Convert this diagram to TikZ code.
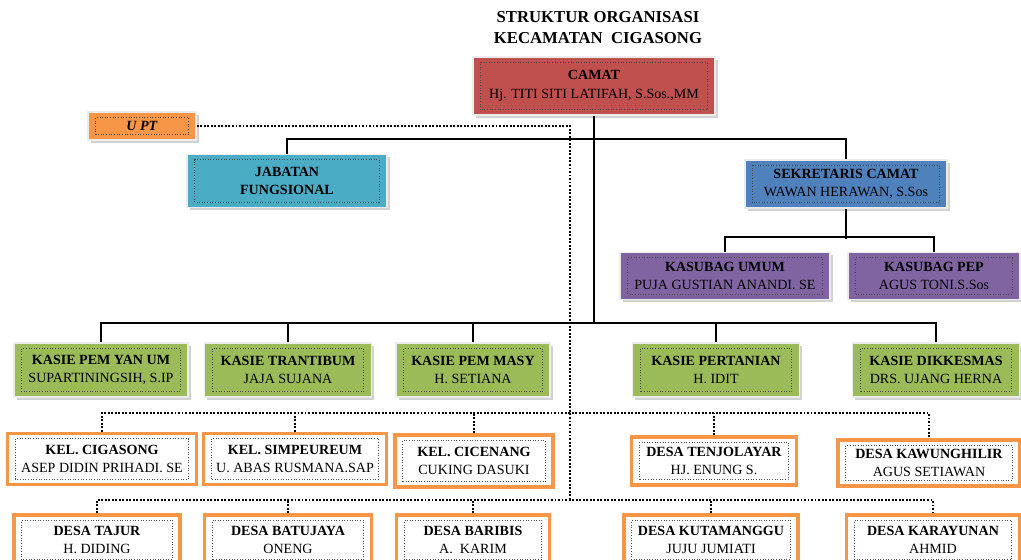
\documentclass[tikz,border=0pt]{standalone}
\usepackage{fontspec}
\setmainfont{Liberation Serif}
\usetikzlibrary{positioning}
\usetikzlibrary{shadows}
\definecolor{camatred}{HTML}{C0504D}
\definecolor{uptorange}{HTML}{F79646}
\definecolor{jabblue}{HTML}{4BACC6}
\definecolor{sekblue}{HTML}{4F81BD}
\definecolor{subpurple}{HTML}{8064A2}
\definecolor{kasiegreen}{HTML}{9BBB59}
\tikzset{
    every node/.append style={
        font=\fontsize{8}{10.5}\selectfont
    },
    inner frame/.style={
        path picture={
            \draw[densely dotted, gray!60!black, line width=0.5pt]
                ([shift={(4.5pt,3pt)}]path picture bounding box.south west) rectangle
                ([shift={(-4.5pt,-3pt)}]path picture bounding box.north east);
        }
    },
    unit/.style={
        draw=white!85!gray,
        line width=1pt,
        fill=#1,
        align=center,
        inner sep=0pt,
        inner frame,
        drop shadow={shadow xshift=1.5pt, shadow yshift=-1.5pt, fill=gray!70, opacity=0.5}
    },
    village/.style={
        draw=uptorange,
        line width=1.9pt,
        fill=white,
        align=center,
        inner sep=0pt,
        inner frame
    },
    orgline/.style={
        draw,
        line width=1.1pt
    },
    dotline/.style={
        draw,
        line width=1.4pt,
        dash pattern=on 1.1pt off 0.9pt
    }
}

\begin{document}
\begin{tikzpicture}[x=0.02cm, y=-0.02cm]
    \useasboundingbox (0,0) rectangle (1021,560);

    \node[align=center, font=\fontsize{9.5}{12}\selectfont\bfseries] (title) at (598,28)
        {STRUKTUR ORGANISASI\\KECAMATAN\ \ CIGASONG};

    \node[unit=camatred, minimum width=4.84cm, minimum height=1.16cm] (camat) at (594,86)
        {\textbf{CAMAT}\\Hj. TITI SITI LATIFAH, S.Sos.,MM};
    \node[unit=uptorange, minimum width=2.16cm, minimum height=0.56cm] (upt) at (142,126)
        {\textbf{\textit{U PT}}};
    \node[unit=jabblue, minimum width=4cm, minimum height=1.06cm] (jabatan) at (287,181)
        {\textbf{JABATAN}\\\textbf{FUNGSIONAL}};
    \node[unit=sekblue, minimum width=4.04cm, minimum height=0.96cm] (sekcam) at (846,184)
        {\textbf{SEKRETARIS CAMAT}\\WAWAN HERAWAN, S.Sos};
    \node[unit=subpurple, minimum width=4.2cm, minimum height=0.94cm] (kumum) at (725,276)
        {\textbf{KASUBAG UMUM}\\PUJA GUSTIAN ANANDI. SE};
    \node[unit=subpurple, minimum width=3.44cm, minimum height=0.94cm] (kpep) at (934,276)
        {\textbf{KASUBAG PEP}\\AGUS TONI.S.Sos};

    \node[unit=kasiegreen, minimum width=3.48cm, minimum height=1.08cm] (kyanum) at (101,370)
        {\textbf{KASIE PEM YAN UM}\\SUPARTININGSIH, S.IP};
    \node[unit=kasiegreen, minimum width=3.34cm, minimum height=1.08cm] (ktrantib) at (288,370)
        {\textbf{KASIE TRANTIBUM}\\JAJA SUJANA};
    \node[unit=kasiegreen, minimum width=3.08cm, minimum height=1.08cm] (kmasy) at (473,370)
        {\textbf{KASIE PEM MASY}\\H. SETIANA};
    \node[unit=kasiegreen, minimum width=3.34cm, minimum height=1.08cm] (ktani) at (716,370)
        {\textbf{KASIE PERTANIAN}\\H. IDIT};
    \node[unit=kasiegreen, minimum width=3.34cm, minimum height=1.08cm] (kdikkes) at (936,370)
        {\textbf{KASIE DIKKESMAS}\\DRS. UJANG HERNA};

    \node[village, minimum width=3.78cm, minimum height=1.02cm] (cigasong) at (102,459)
        {\textbf{KEL. CIGASONG}\\ASEP DIDIN PRIHADI. SE};
    \node[village, minimum width=3.66cm, minimum height=1.02cm] (simpeureum) at (295,459)
        {\textbf{KEL. SIMPEUREUM}\\U. ABAS RUSMANA.SAP};
    \node[village, minimum width=3.16cm, minimum height=1.04cm] (cicenang) at (474,461)
        {\textbf{KEL. CICENANG}\\CUKING DASUKI};
    \node[village, minimum width=3.3cm, minimum height=0.96cm] (tenjolayar) at (714,461)
        {\textbf{DESA TENJOLAYAR}\\HJ. ENUNG S.};
    \node[village, minimum width=3.64cm, minimum height=0.92cm] (kawunghilir) at (929,463)
        {\textbf{DESA KAWUNGHILIR}\\AGUS SETIAWAN};

    \node[village, minimum width=3.32cm, minimum height=1cm] (tajur) at (97,540)
        {\textbf{DESA TAJUR}\\H. DIDING};
    \node[village, minimum width=3.34cm, minimum height=1cm] (batujaya) at (288,540)
        {\textbf{DESA BATUJAYA}\\ONENG};
    \node[village, minimum width=3.06cm, minimum height=1cm] (baribis) at (473,540)
        {\textbf{DESA BARIBIS}\\A.\ \ KARIM};
    \node[village, minimum width=3.48cm, minimum height=1cm] (kutamanggu) at (711,540)
        {\textbf{DESA KUTAMANGGU}\\JUJU JUMIATI};
    \node[village, minimum width=3.46cm, minimum height=1cm] (karayunan) at (933,540)
        {\textbf{DESA KARAYUNAN}\\AHMID};

    \coordinate (kasiebar) at (594,323);
    \coordinate (kelbar) at (570,413);
    \coordinate (desabar) at (570,500);

    \draw[orgline] (jabatan.north) -- ++(0,-15) -| (sekcam.north);
    \draw[orgline] (sekcam.south) -- ++(0,30);
    \draw[orgline] (kumum.north) -- ++(0,-15) -| (kpep.north);
    \draw[orgline] (camat.south) -- (kasiebar);
    \draw[orgline] (kyanum.north) |- (kasiebar) -| (kdikkes.north);
    \foreach \k in {ktrantib,kmasy,ktani}
        \draw[orgline] (\k.north) -- (\k.north |- kasiebar);

    \draw[dotline] (upt.east) -| (desabar);
    \draw[dotline] (cigasong.north) |- (kelbar) -| (kawunghilir.north);
    \foreach \k in {simpeureum,cicenang,tenjolayar}
        \draw[dotline] (\k.north) -- (\k.north |- kelbar);
    \draw[dotline] (tajur.north) |- (desabar) -| (karayunan.north);
    \foreach \k in {batujaya,baribis,kutamanggu}
        \draw[dotline] (\k.north) -- (\k.north |- desabar);
\end{tikzpicture}
\end{document}
